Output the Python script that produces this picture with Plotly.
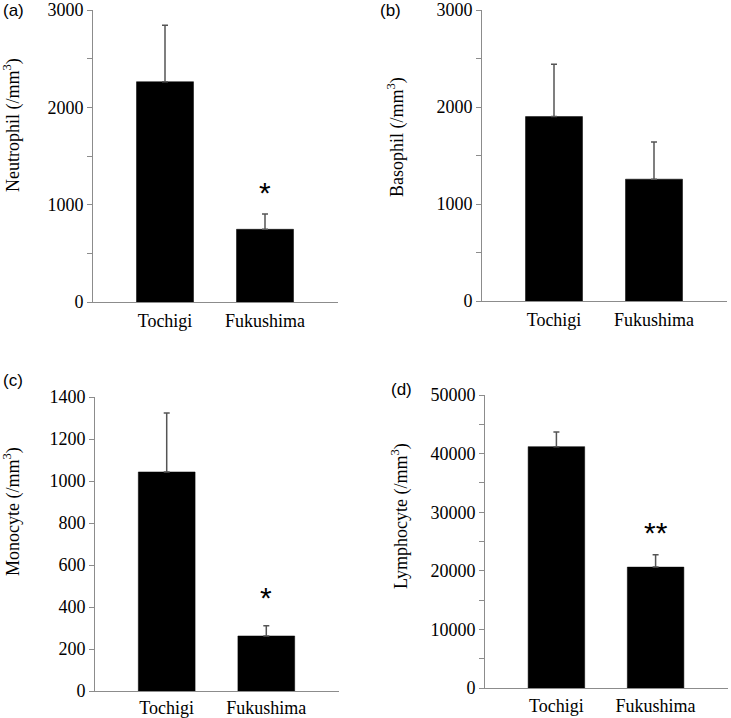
import plotly.graph_objects as go

categories = ["Tochigi", "Fukushima"]

neutrophil = [2263, 747]
neutrophil_err = [580, 157]
basophil = [1901, 1256]
basophil_err = [540, 384]
monocyte = [1043, 262]
monocyte_err = [281, 49]
lymphocyte = [41190, 20630]
lymphocyte_err = [2500, 2090]

panel_labels = ["(a)", "(b)", "(c)", "(d)"]
y_titles = ["Neutrophil (/mm<sup>3</sup>)", "Basophil (/mm<sup>3</sup>)",
            "Monocyte (/mm<sup>3</sup>)", "Lymphocyte (/mm<sup>3</sup>)"]
y_ranges = [[0, 3000], [0, 3000], [0, 1400], [0, 50000]]
y_dticks = [1000, 1000, 200, 10000]
y_minor = [500, 500, None, 5000]
sig_marks = ["*", "", "*", "**"]
sig_pos = [1123, None, 443, 26540]

W, H = 731, 718
# pixel boxes: (x0, x1, ytop, ybottom)
boxes = [(93, 338, 10, 302), (482, 727, 10, 301), (95, 339, 397, 691), (485, 728, 395, 688)]
ylabel_pos = [(12, 125), (396, 137), (12, 512), (400, 516)]
plabel_pos = [(13, 10), (391, 10), (13, 380), (401, 389)]
xlabel_standoff = [2, 2, 0, 1]

values = [neutrophil, basophil, monocyte, lymphocyte]
errors = [neutrophil_err, basophil_err, monocyte_err, lymphocyte_err]

serif = "Liberation Serif, Times New Roman, serif"
axis_col = "#8c8c8c"

fig = go.Figure()
annotations = []
for i in range(4):
    ax = "" if i == 0 else str(i + 1)
    fig.add_trace(go.Bar(
        x=categories, y=values[i], width=0.57,
        marker=dict(color="black", line=dict(color="black", width=0.5)),
        error_y=dict(type="data", array=errors[i], arrayminus=[0, 0], symmetric=False,
                     color="#555555", thickness=1.5, width=3),
        xaxis="x" + ax, yaxis="y" + ax, showlegend=False,
    ))
    x0, x1, yt, yb = boxes[i]
    xd = [x0 / W, x1 / W]
    yd = [1 - yb / H, 1 - yt / H]
    xaxis = dict(domain=xd, anchor="y" + ax, range=[-0.72, 1.73], showline=True,
                 linecolor=axis_col, linewidth=1, ticks="", showgrid=False, zeroline=False,
                 tickfont=dict(family=serif, size=18, color="black"),
                 ticklabelstandoff=xlabel_standoff[i],
                 fixedrange=True, automargin=False)
    minor = dict(dtick=y_minor[i], ticks="outside", ticklen=5, tickcolor=axis_col, showgrid=False) if y_minor[i] else None
    yaxis = dict(domain=yd, anchor="x" + ax, range=y_ranges[i], dtick=y_dticks[i], showline=True,
                 linecolor=axis_col, linewidth=1, ticks="outside", ticklen=5, tickcolor=axis_col,
                 showgrid=False, zeroline=False, tickformat="d",
                 tickfont=dict(family=serif, size=18, color="black"), fixedrange=True,
                 automargin=False)
    if minor:
        yaxis["minor"] = minor
    fig.update_layout(**{"xaxis" + ax: xaxis, "yaxis" + ax: yaxis})
    lx, ly = ylabel_pos[i]
    annotations.append(dict(text=y_titles[i], x=lx / W, y=1 - ly / H, xref="paper", yref="paper",
                            textangle=-90, showarrow=False, xanchor="center", yanchor="middle",
                            font=dict(family=serif, size=18, color="black")))
    px, py = plabel_pos[i]
    annotations.append(dict(text=panel_labels[i], x=px / W, y=1 - py / H, xref="paper", yref="paper",
                            showarrow=False, xanchor="center", yanchor="middle",
                            font=dict(family="Liberation Sans, Arial, sans-serif", size=17, color="black")))
    if sig_marks[i]:
        annotations.append(dict(text=sig_marks[i], x=categories[1], y=sig_pos[i],
                                xref="x" + ax, yref="y" + ax, showarrow=False,
                                xanchor="center", yanchor="middle",
                                font=dict(family="Liberation Sans, Arial, sans-serif", size=30, color="black")))

fig.update_layout(width=W, height=H, margin=dict(l=0, r=0, t=0, b=0),
                  paper_bgcolor="white", plot_bgcolor="white", annotations=annotations,
                  bargap=0.4)
fig.write_html("out.html", post_script="document.body.style.margin='0';",
               config={"displayModeBar": False})
